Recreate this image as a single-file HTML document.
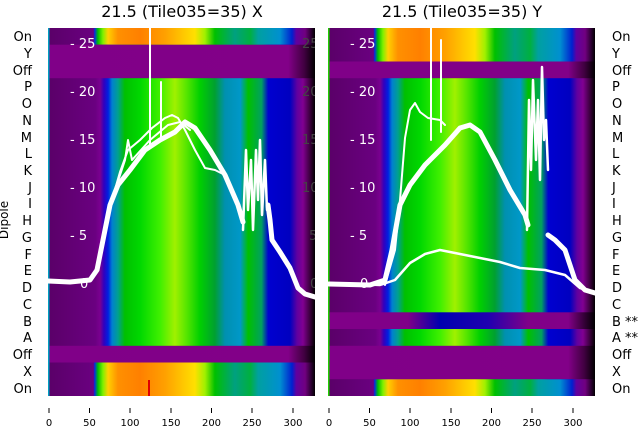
<!DOCTYPE html>
<html><head><meta charset="utf-8"><style>
html,body{margin:0;padding:0;background:#fff;}
svg{display:block;font-family:"DejaVu Sans","Liberation Sans",sans-serif;}
</style></head><body>
<svg width="640" height="440" viewBox="0 0 640 440">
<defs>
<linearGradient id="G" gradientUnits="userSpaceOnUse" x1="48" x2="315" y1="0" y2="0">
<stop offset="0" stop-color="#5a0068"/><stop offset="0.177" stop-color="#6a0080"/>
<stop offset="0.195" stop-color="#7a0090"/><stop offset="0.21" stop-color="#3000c0"/>
<stop offset="0.225" stop-color="#0020e0"/><stop offset="0.24" stop-color="#0080d0"/>
<stop offset="0.262" stop-color="#00a090"/><stop offset="0.288" stop-color="#00c000"/>
<stop offset="0.345" stop-color="#00d800"/><stop offset="0.42" stop-color="#40f000"/>
<stop offset="0.475" stop-color="#a0f000"/><stop offset="0.513" stop-color="#60e800"/>
<stop offset="0.569" stop-color="#00d000"/><stop offset="0.625" stop-color="#00a030"/>
<stop offset="0.663" stop-color="#0090b0"/><stop offset="0.72" stop-color="#0098c8"/>
<stop offset="0.75" stop-color="#00c000"/><stop offset="0.8" stop-color="#00a060"/>
<stop offset="0.825" stop-color="#0000d0"/><stop offset="0.906" stop-color="#0000c0"/>
<stop offset="0.933" stop-color="#6000a0"/><stop offset="0.955" stop-color="#800090"/>
<stop offset="0.985" stop-color="#300030"/><stop offset="1" stop-color="#000"/>
</linearGradient>
<linearGradient id="O" gradientUnits="userSpaceOnUse" x1="48" x2="315" y1="0" y2="0">
<stop offset="0" stop-color="#5a0068"/><stop offset="0.17" stop-color="#6a0080"/>
<stop offset="0.175" stop-color="#0030e0"/><stop offset="0.187" stop-color="#00c000"/>
<stop offset="0.206" stop-color="#80f000"/><stop offset="0.225" stop-color="#ffd000"/>
<stop offset="0.262" stop-color="#ff9000"/><stop offset="0.345" stop-color="#ff8000"/>
<stop offset="0.438" stop-color="#ffa000"/><stop offset="0.55" stop-color="#ffe000"/>
<stop offset="0.588" stop-color="#a0f000"/><stop offset="0.625" stop-color="#00c000"/>
<stop offset="0.7" stop-color="#00a080"/><stop offset="0.757" stop-color="#00b040"/>
<stop offset="0.787" stop-color="#00a0a0"/><stop offset="0.869" stop-color="#0090d0"/>
<stop offset="0.914" stop-color="#0020d0"/><stop offset="0.93" stop-color="#6000a0"/>
<stop offset="0.963" stop-color="#700080"/><stop offset="1" stop-color="#000"/>
</linearGradient>
<linearGradient id="P" gradientUnits="userSpaceOnUse" x1="48" x2="315" y1="0" y2="0">
<stop offset="0" stop-color="#800088"/><stop offset="0.9" stop-color="#820088"/>
<stop offset="0.96" stop-color="#400040"/><stop offset="1" stop-color="#000"/>
</linearGradient>
<linearGradient id="B" gradientUnits="userSpaceOnUse" x1="48" x2="315" y1="0" y2="0">
<stop offset="0" stop-color="#800088"/><stop offset="0.3" stop-color="#800088"/>
<stop offset="0.42" stop-color="#0000b0"/><stop offset="0.6" stop-color="#2000b0"/>
<stop offset="0.75" stop-color="#800088"/><stop offset="0.9" stop-color="#820088"/>
<stop offset="1" stop-color="#000"/>
</linearGradient>
<clipPath id="c"><rect x="48" y="28" width="267" height="368"/></clipPath>
</defs>

<text x="182" y="17" font-size="16" text-anchor="middle">21.5 (Tile035=35) X</text>
<text x="462" y="17" font-size="16" text-anchor="middle">21.5 (Tile035=35) Y</text>

<!-- LEFT PANEL -->
<g clip-path="url(#c)">
<rect x="48" y="28" width="267" height="368" fill="url(#G)"/>
<rect x="48" y="28" width="267" height="16.7" fill="url(#O)"/>
<rect x="48" y="44.7" width="267" height="33.5" fill="url(#P)"/>
<rect x="48" y="345.8" width="267" height="16.7" fill="url(#P)"/>
<rect x="48" y="362.5" width="267" height="33.5" fill="url(#O)"/>
<rect x="48" y="28" width="1.5" height="368" fill="#00a0c0"/>
<rect x="148" y="380" width="2" height="16" fill="#e00000"/>
<g fill="none" stroke="#fff" stroke-linejoin="round" stroke-linecap="round">
<polyline stroke-width="5" points="48,281 70,282 90,280 97,270 103,240 110,205 118,185 130,170 145,150 160,140 175,132 185,122 195,128 210,150 225,175 238,205 243,222"/>
<polyline stroke-width="5" points="268,205 270,220 272,240 280,252 290,268 298,288 305,294 315,297"/>
<polyline stroke-width="2" points="112,200 120,172 128,150 140,140 152,128 165,118 172,115 178,118 185,130 195,150 205,168 215,170 225,175"/>
<polyline stroke-width="2" points="115,190 125,160 128,140 132,160 150,140 168,125 180,122 190,130"/>
<polyline stroke-width="2.5" points="243,230 246,150 248,210 251,160 253,230 256,150 258,200 260,140 262,215 265,160 267,210"/>
<line x1="150" y1="28" x2="150" y2="148" stroke-width="2"/>
<line x1="161" y1="82" x2="161" y2="140" stroke-width="2"/>
</g>
<g fill="#fff" font-size="13">
<text x="70" y="48">- 25</text><text x="70" y="96">- 20</text><text x="70" y="144">- 15</text>
<text x="70" y="192">- 10</text><text x="70" y="240">- 5</text><text x="80" y="288">0</text>
</g>
<g fill="#444" font-size="13">
<text x="302" y="48">25</text><text x="302" y="96">20</text><text x="302" y="144">15</text>
<text x="302" y="192">10</text><text x="309" y="240">5</text><text x="310" y="288">0</text>
</g>
</g>

<!-- RIGHT PANEL -->
<g transform="translate(280,0)">
<g clip-path="url(#c)">
<rect x="48" y="28" width="267" height="368" fill="url(#G)"/>
<rect x="48" y="28" width="267" height="33.5" fill="url(#O)"/>
<rect x="48" y="61.5" width="267" height="16.7" fill="url(#P)"/>
<rect x="48" y="312.3" width="267" height="16.7" fill="url(#B)"/>
<rect x="48" y="345.8" width="267" height="33.5" fill="url(#P)"/>
<rect x="48" y="379.3" width="267" height="16.7" fill="url(#O)"/>
<rect x="48" y="28" width="1.5" height="368" fill="#20d000"/>
</g>
</g>
<g fill="none" stroke="#fff" stroke-linejoin="round" stroke-linecap="round">
<polyline stroke-width="5" points="329,284 370,285 385,280 392,250 400,205 410,185 425,165 445,145 460,128 470,125 480,132 495,160 510,190 525,215 528,225"/>
<polyline stroke-width="5" points="548,235 555,240 565,250 575,280 585,290 595,293"/>
<polyline stroke-width="2.5" points="329,283 380,285 395,280 410,263 425,254 440,250 470,256 500,262 520,268 545,270 565,275 580,288 595,292"/>
<polyline stroke-width="2" points="385,285 395,250 400,200 405,138 410,110 415,103 420,112 428,118 440,120 445,125"/>
<polyline stroke-width="2.5" points="527,230 529,100 531,170 533,80 536,160 538,100 540,180 542,67 544,140 546,120 548,170"/>
<line x1="431" y1="28" x2="431" y2="140" stroke-width="2"/>
<line x1="441" y1="40" x2="441" y2="132" stroke-width="2"/>
</g>
<g fill="#fff" font-size="13">
<text x="350" y="48">- 25</text><text x="350" y="96">- 20</text><text x="350" y="144">- 15</text>
<text x="350" y="192">- 10</text><text x="350" y="240">- 5</text><text x="360" y="288">0</text>
</g>

<!-- Row labels -->
<g font-size="13" fill="#000" text-anchor="end">
<text x="32" y="41">On</text><text x="32" y="58">Y</text><text x="32" y="75">Off</text>
<text x="32" y="91">P</text><text x="32" y="108">O</text><text x="32" y="125">N</text>
<text x="32" y="142">M</text><text x="32" y="158">L</text><text x="32" y="175">K</text>
<text x="32" y="192">J</text><text x="32" y="208">I</text><text x="32" y="225">H</text>
<text x="32" y="242">G</text><text x="32" y="259">F</text><text x="32" y="275">E</text>
<text x="32" y="292">D</text><text x="32" y="309">C</text><text x="32" y="326">B</text>
<text x="32" y="342">A</text><text x="32" y="359">Off</text><text x="32" y="376">X</text>
<text x="32" y="393">On</text>
</g>
<g font-size="13" fill="#000">
<text x="612" y="41">On</text><text x="612" y="58">Y</text><text x="612" y="75">Off</text>
<text x="612" y="91">P</text><text x="612" y="108">O</text><text x="612" y="125">N</text>
<text x="612" y="142">M</text><text x="612" y="158">L</text><text x="612" y="175">K</text>
<text x="612" y="192">J</text><text x="612" y="208">I</text><text x="612" y="225">H</text>
<text x="612" y="242">G</text><text x="612" y="259">F</text><text x="612" y="275">E</text>
<text x="612" y="292">D</text><text x="612" y="309">C</text><text x="612" y="326">B **</text>
<text x="612" y="342">A **</text><text x="612" y="359">Off</text><text x="612" y="376">X</text>
<text x="612" y="393">On</text>
</g>
<text transform="translate(8,220) rotate(-90)" font-size="12" text-anchor="middle" fill="#000">Dipole</text>

<!-- X ticks -->
<g stroke="#000" stroke-width="1">
<line x1="49" y1="408" x2="49" y2="413"/><line x1="89.5" y1="408" x2="89.5" y2="413"/>
<line x1="130" y1="408" x2="130" y2="413"/><line x1="171" y1="408" x2="171" y2="413"/>
<line x1="211.5" y1="408" x2="211.5" y2="413"/><line x1="252" y1="408" x2="252" y2="413"/>
<line x1="293" y1="408" x2="293" y2="413"/>
<line x1="329" y1="408" x2="329" y2="413"/><line x1="369.5" y1="408" x2="369.5" y2="413"/>
<line x1="410" y1="408" x2="410" y2="413"/><line x1="451" y1="408" x2="451" y2="413"/>
<line x1="491.5" y1="408" x2="491.5" y2="413"/><line x1="532" y1="408" x2="532" y2="413"/>
<line x1="573" y1="408" x2="573" y2="413"/>
</g>
<g font-size="10" text-anchor="middle" fill="#000">
<text x="49" y="426">0</text><text x="89.5" y="426">50</text><text x="130" y="426">100</text>
<text x="171" y="426">150</text><text x="211.5" y="426">200</text><text x="252" y="426">250</text>
<text x="293" y="426">300</text>
<text x="329" y="426">0</text><text x="369.5" y="426">50</text><text x="410" y="426">100</text>
<text x="451" y="426">150</text><text x="491.5" y="426">200</text><text x="532" y="426">250</text>
<text x="573" y="426">300</text>
</g>
</svg>
</body></html>
